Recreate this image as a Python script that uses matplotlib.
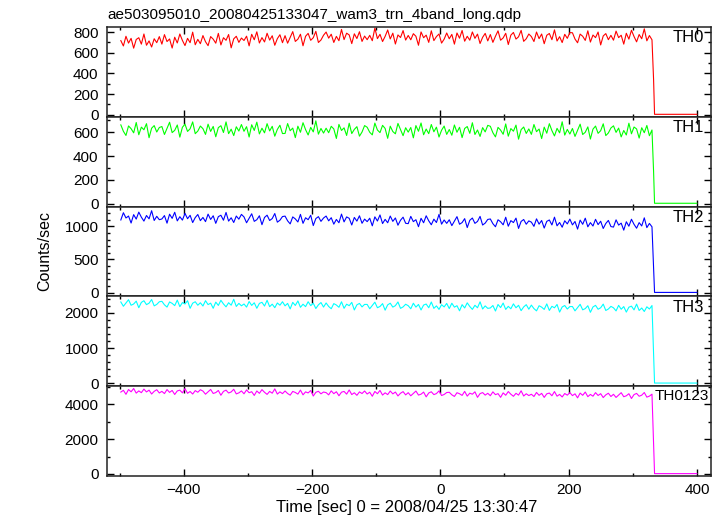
import matplotlib
matplotlib.use("Agg")
import matplotlib.pyplot as plt
from matplotlib.ticker import MultipleLocator
import numpy as np

plt.rcParams['font.family'] = ['Liberation Sans', 'DejaVu Sans']

title = "ae503095010_20080425133047_wam3_trn_4band_long.qdp"
names = ["TH0", "TH1", "TH2", "TH3", "TH0123"]
colors = ["#ff0000", "#00ff00", "#0000ff", "#00ffff", "#ff00ff"]

# light curve bins (sec from 2008/04/25 13:30:47)
t_first = -498
t_step = 4

th0 = [718, 666, 760, 694, 740, 645, 729, 746, 684, 782, 673, 715, 656, 736, 698, 757,
       684, 776, 709, 734, 646, 751, 695, 782, 720, 670, 740, 698, 800, 678, 730, 688,
       767, 707, 669, 757, 732, 693, 788, 676, 746, 721, 777, 648, 735, 760, 701, 743,
       719, 761, 667, 779, 726, 803, 695, 747, 705, 789, 723, 765, 673, 737, 775, 698,
       766, 693, 749, 805, 710, 732, 780, 668, 760, 788, 721, 746, 808, 700, 724, 770,
       801, 742, 780, 700, 759, 717, 826, 728, 790, 773, 689, 784, 738, 804, 710, 762,
       727, 769, 717, 839, 737, 779, 709, 759, 821, 734, 790, 685, 773, 748, 815, 723,
       768, 726, 785, 760, 673, 802, 746, 771, 701, 813, 718, 757, 782, 694, 732, 792,
       736, 778, 684, 792, 741, 816, 712, 760, 722, 802, 740, 781, 690, 750, 788, 715,
       777, 701, 760, 813, 722, 744, 789, 680, 771, 797, 733, 755, 817, 711, 736, 782,
       757, 709, 801, 737, 782, 688, 770, 787, 727, 822, 714, 756, 699, 779, 740, 796,
       794, 733, 697, 781, 760, 720, 813, 704, 772, 747, 801, 676, 763, 786, 727, 769,
       722, 810, 747, 770, 684, 789, 732, 818, 758, 706, 777, 736, 832, 716, 767, 726]

th1 = [662, 608, 573, 653, 630, 595, 682, 579, 643, 621, 672, 554, 634, 656, 602, 640,
       648, 581, 632, 684, 597, 616, 661, 559, 642, 668, 607, 629, 687, 588, 610, 652,
       630, 582, 668, 607, 649, 562, 639, 655, 598, 687, 588, 626, 572, 646, 610, 665,
       608, 647, 560, 663, 615, 685, 586, 634, 595, 672, 611, 650, 567, 624, 659, 589,
       590, 673, 613, 635, 555, 651, 600, 680, 622, 577, 641, 603, 696, 584, 632, 593,
       634, 596, 650, 628, 548, 666, 615, 637, 573, 676, 589, 624, 647, 567, 602, 656,
       642, 600, 578, 677, 619, 597, 658, 632, 549, 651, 606, 587, 674, 622, 571, 638,
       601, 640, 553, 656, 608, 678, 579, 627, 588, 665, 604, 643, 560, 617, 652, 582,
       623, 575, 661, 600, 642, 555, 632, 648, 591, 680, 581, 619, 565, 639, 603, 658,
       650, 596, 561, 641, 618, 583, 670, 567, 631, 609, 660, 542, 622, 644, 590, 628,
       582, 665, 605, 627, 547, 643, 592, 672, 614, 569, 633, 595, 688, 576, 624, 585,
       632, 565, 616, 668, 581, 600, 645, 543, 626, 652, 591, 613, 671, 572, 594, 636,
       654, 599, 635, 561, 615, 577, 676, 587, 644, 628, 551, 638, 596, 657, 571, 619]

th2 = [1094, 1203, 1124, 1153, 1048, 1174, 1107, 1212, 1136, 1077, 1161, 1111, 1233, 1086, 1149, 1098,
       1109, 1160, 1046, 1181, 1118, 1210, 1080, 1143, 1092, 1193, 1113, 1164, 1055, 1130, 1176, 1084,
       1132, 1069, 1182, 1102, 1157, 1043, 1144, 1165, 1090, 1207, 1077, 1127, 1056, 1153, 1106, 1178,
       1140, 1052, 1119, 1187, 1073, 1098, 1157, 1023, 1132, 1166, 1086, 1115, 1191, 1061, 1090, 1145,
       1152, 1081, 1035, 1140, 1110, 1064, 1178, 1043, 1127, 1098, 1165, 1010, 1115, 1144, 1073, 1123,
       1153, 1081, 1128, 1031, 1102, 1052, 1182, 1065, 1140, 1119, 1018, 1132, 1077, 1157, 1044, 1107,
       1069, 1120, 1006, 1141, 1078, 1170, 1040, 1103, 1052, 1153, 1073, 1124, 1015, 1090, 1136, 1044,
       1039, 1148, 1069, 1098, 993, 1119, 1052, 1157, 1081, 1022, 1106, 1056, 1178, 1031, 1094, 1043,
       1097, 1009, 1076, 1144, 1030, 1055, 1114, 980, 1089, 1123, 1043, 1072, 1148, 1018, 1047, 1102,
       1109, 1038, 992, 1097, 1067, 1021, 1135, 1000, 1084, 1055, 1122, 967, 1072, 1101, 1030, 1080,
       1061, 998, 1111, 1031, 1086, 972, 1073, 1094, 1019, 1136, 1006, 1056, 985, 1082, 1035, 1107,
       1020, 1071, 957, 1092, 1029, 1121, 991, 1054, 1003, 1104, 1024, 1075, 966, 1041, 1087, 995,
       987, 1096, 1017, 1046, 941, 1067, 1000, 1105, 1029, 970, 1054, 1004, 1126, 979, 1042, 991]

th3 = [2303, 2181, 2274, 2366, 2210, 2245, 2326, 2140, 2291, 2337, 2227, 2268, 2372, 2192, 2233, 2308,
       2321, 2222, 2158, 2303, 2263, 2199, 2355, 2170, 2286, 2245, 2338, 2123, 2268, 2309, 2210, 2280,
       2188, 2339, 2228, 2269, 2124, 2298, 2205, 2350, 2246, 2165, 2281, 2211, 2379, 2176, 2263, 2194,
       2245, 2158, 2315, 2205, 2280, 2124, 2263, 2292, 2187, 2350, 2170, 2240, 2141, 2274, 2211, 2309,
       2193, 2262, 2106, 2291, 2204, 2332, 2152, 2239, 2170, 2309, 2199, 2268, 2117, 2222, 2286, 2158,
       2274, 2175, 2111, 2256, 2216, 2152, 2308, 2123, 2239, 2198, 2291, 2076, 2221, 2262, 2163, 2233,
       2233, 2111, 2204, 2296, 2140, 2175, 2256, 2070, 2221, 2267, 2157, 2198, 2302, 2122, 2163, 2238,
       2197, 2110, 2267, 2157, 2232, 2076, 2215, 2244, 2139, 2302, 2122, 2192, 2093, 2226, 2163, 2261,
       2116, 2267, 2156, 2197, 2052, 2226, 2133, 2278, 2174, 2093, 2209, 2139, 2307, 2104, 2191, 2122,
       2133, 2202, 2046, 2231, 2144, 2272, 2092, 2179, 2110, 2249, 2139, 2208, 2057, 2162, 2226, 2098,
       2214, 2115, 2051, 2196, 2156, 2092, 2248, 2063, 2179, 2138, 2231, 2016, 2161, 2202, 2103, 2173,
       2173, 2051, 2144, 2236, 2080, 2115, 2196, 2010, 2161, 2207, 2097, 2138, 2242, 2062, 2103, 2178,
       2137, 2050, 2207, 2097, 2172, 2016, 2155, 2184, 2079, 2242, 2062, 2132, 2033, 2166, 2103, 2201]

th0123 = [4684, 4786, 4556, 4829, 4701, 4888, 4624, 4752, 4650, 4854, 4692, 4795, 4573, 4727, 4820, 4633,
          4726, 4598, 4828, 4666, 4777, 4547, 4751, 4794, 4640, 4879, 4615, 4717, 4572, 4768, 4674, 4819,
          4742, 4563, 4699, 4835, 4605, 4656, 4776, 4503, 4725, 4793, 4631, 4691, 4844, 4580, 4639, 4750,
          4586, 4808, 4646, 4706, 4493, 4748, 4612, 4825, 4672, 4552, 4723, 4620, 4867, 4569, 4697, 4595,
          4747, 4602, 4509, 4722, 4662, 4568, 4798, 4526, 4696, 4636, 4773, 4458, 4671, 4730, 4585, 4688,
          4653, 4525, 4755, 4593, 4704, 4474, 4678, 4721, 4567, 4806, 4542, 4644, 4499, 4695, 4601, 4746,
          4574, 4676, 4446, 4719, 4591, 4778, 4514, 4642, 4540, 4744, 4582, 4685, 4463, 4617, 4710, 4523,
          4650, 4471, 4607, 4743, 4513, 4564, 4684, 4411, 4633, 4701, 4539, 4599, 4752, 4488, 4547, 4658,
          4673, 4528, 4435, 4648, 4588, 4494, 4724, 4452, 4622, 4562, 4699, 4384, 4597, 4656, 4511, 4614,
          4476, 4698, 4536, 4596, 4383, 4638, 4502, 4715, 4562, 4442, 4613, 4510, 4757, 4459, 4587, 4485,
          4560, 4432, 4662, 4500, 4611, 4381, 4585, 4628, 4474, 4713, 4449, 4551, 4406, 4602, 4508, 4653,
          4482, 4584, 4354, 4627, 4499, 4686, 4422, 4550, 4448, 4652, 4490, 4593, 4371, 4525, 4618, 4431,
          4557, 4378, 4514, 4650, 4420, 4471, 4591, 4318, 4540, 4608, 4446, 4506, 4659, 4395, 4454, 4565]

# end of the observation: one partial bin, then ~zero
tail_t = [332.5, 334, 400]
tail_vals = [[340, 4, 4], [270, 3, 3], [373, 5, 5], [815, 9, 9], [1800, 21, 21]]

series = [th0, th1, th2, th3, th0123]
ylims = [(-20, 850), (-25, 730), (-55, 1295), (-80, 2460), (-115, 5020)]
ymajor = [200, 200, 500, 1000, 2000]
yminor = [100, 100, 100, 200, 1000]

fig = plt.figure(figsize=(7.23, 5.16), dpi=100)
left, width = 0.1476, 0.8358
top, bottom = 0.9477, 0.0775
h = (top - bottom) / 5

for i in range(5):
    ax = fig.add_axes([left, top - (i + 1) * h, width, h])
    vals = series[i]
    t = t_first + t_step * np.arange(len(vals))
    x = np.concatenate([t, tail_t])
    y = np.concatenate([vals, tail_vals[i]])
    ax.plot(x, y, color=colors[i], lw=0.8)

    ax.set_xlim(-520, 422)
    ax.set_ylim(*ylims[i])
    ax.xaxis.set_major_locator(MultipleLocator(200))
    ax.xaxis.set_minor_locator(MultipleLocator(100))
    ax.yaxis.set_major_locator(MultipleLocator(ymajor[i]))
    ax.yaxis.set_minor_locator(MultipleLocator(yminor[i]))
    ax.tick_params(which='both', direction='in', top=True, right=True,
                   labelsize=11, width=1)
    ax.tick_params(which='major', length=5)
    ax.tick_params(which='minor', length=2.5)
    ax.tick_params(axis='y', pad=6)
    ax.tick_params(axis='x', pad=5)
    for s in ax.spines.values():
        s.set_linewidth(1.1)
        s.set_color('#222222')
    if i < 4:
        ax.tick_params(labelbottom=False)
    if i < 4:
        ax.text(0.962, 0.965, names[i], transform=ax.transAxes,
                ha='center', va='top', fontsize=12)
    else:
        ax.text(0.951, 0.965, names[i], transform=ax.transAxes,
                ha='center', va='top', fontsize=11)

fig.text(0.149, 0.971, title, ha='left', va='center', fontsize=11)
fig.text(0.062, 0.514, "Counts/sec", rotation=90, ha='center', va='center', fontsize=11.5)
fig.text(0.562, 0.017, "Time [sec] 0 = 2008/04/25 13:30:47", ha='center', va='center', fontsize=12)

fig.savefig("out.png", dpi=100)
